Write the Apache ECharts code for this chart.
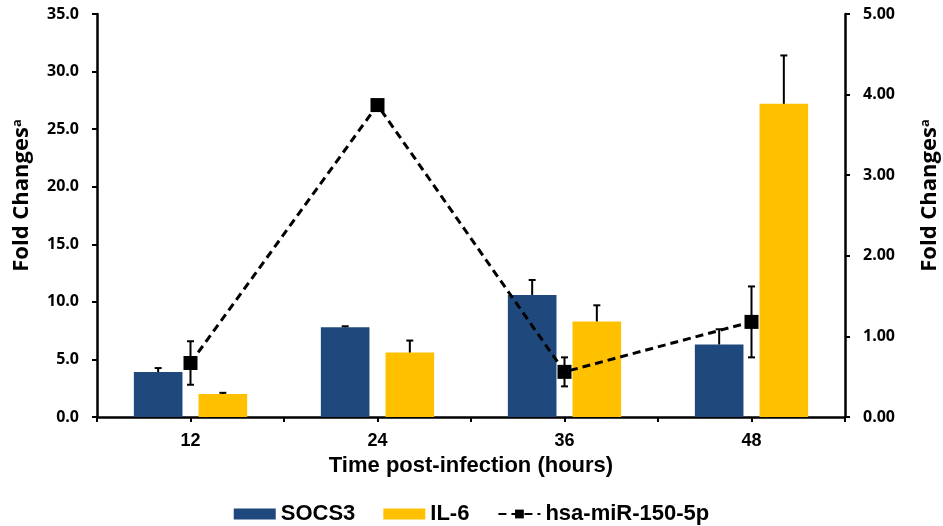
<!DOCTYPE html>
<html>
<head>
<meta charset="utf-8">
<script src="https://cdn.jsdelivr.net/npm/echarts@6/dist/echarts.min.js"></script>
<style>html,body{margin:0;padding:0;background:#fff;}#c{width:943px;height:526px;}</style>
</head>
<body>
<div id="c"></div>
<script>
const categories = ['12', '24', '36', '48'];
const socs3 = [3.9, 7.8, 10.6, 6.3];
const socs3Err = [0.35, 0.08, 1.3, 1.32];
const il6 = [2.0, 5.6, 8.3, 27.2];
const il6Err = [0.1, 1.04, 1.4, 4.2];
const mir = [0.67, 3.87, 0.56, 1.18];
const mirErr = [0.27, 0, 0.18, 0.44];
const leftTicks = [0, 5, 10, 15, 20, 25, 30, 35];
const rightTicks = [0, 1, 2, 3, 4, 5];

const BAR_W = 0.26, BAR_GAP = 0.33;
const tickFont = '"Open Sans"';
const arial = '"Liberation Sans", Arial';

function errRenderer(sign, both) {
  return function (params, api) {
    const i = api.value(0), v = api.value(1), e = api.value(2);
    const p = api.coord([i, v]);
    const t = api.coord([i, v + e]);
    const b = both ? api.coord([i, v - e]) : p;
    const cw = api.size([1, 0])[0];
    const cx = p[0] + sign * cw * BAR_W * (1 + BAR_GAP) / 2;
    const h = 3.5;
    const st = { stroke: '#000', lineWidth: 2 };
    const ch = [
      { type: 'line', shape: { x1: cx, y1: t[1], x2: cx, y2: b[1] }, style: st },
      { type: 'line', shape: { x1: cx - h, y1: t[1], x2: cx + h, y2: t[1] }, style: st }
    ];
    if (both) ch.push({ type: 'line', shape: { x1: cx - h, y1: b[1], x2: cx + h, y2: b[1] }, style: st });
    return { type: 'group', children: ch };
  };
}

const chart = echarts.init(document.getElementById('c'), null, { renderer: 'canvas' });
const axisLine = { show: true, lineStyle: { color: '#000', width: 2.5 } };
const axisTick = { show: true, length: 5, lineStyle: { color: '#000', width: 2 } };
const titleRich = {
  m: { fontFamily: tickFont, fontWeight: 'bold', fontSize: 22, color: '#000' },
  s: { fontFamily: tickFont, fontWeight: 'bold', fontSize: 13, color: '#000', verticalAlign: 'top', padding: [0, 0, 9, 0] }
};
chart.setOption({
  animation: false,
  grid: { left: 97, right: 98, top: 14, bottom: 109, containLabel: false, outerBoundsMode: 'none' },
  legend: {
    left: 'center', top: 498,
    itemWidth: 42, itemHeight: 11, itemGap: 28,
    textStyle: { fontFamily: arial, fontWeight: 'bold', fontSize: 22, color: '#000' },
    data: [{ name: 'SOCS3', icon: 'rect' }, { name: 'IL-6', icon: 'rect' }, { name: 'hsa-miR-150-5p' }]
  },
  xAxis: [{
    type: 'category', data: categories, position: 'bottom',
    axisLine: axisLine, axisTick: { show: false },
    axisLabel: { fontFamily: arial, fontWeight: 'bold', fontSize: 18, color: '#000', margin: 15 },
    name: 'Time post-infection (hours)', nameLocation: 'middle', nameGap: 37,
    nameTextStyle: { fontFamily: arial, fontWeight: 'bold', fontSize: 22, color: '#000' },
    splitLine: { show: false }
  }, {
    type: 'category', data: ['a','b','c','d','e','f','g','h'], position: 'bottom',
    axisLine: { show: false }, axisLabel: { show: false },
    axisTick: axisTick, splitLine: { show: false }
  }],
  yAxis: [{
    type: 'value', min: 0, max: 35, interval: 5, position: 'left',
    axisLine: axisLine, axisTick: axisTick, splitLine: { show: false },
    axisLabel: { fontFamily: tickFont, fontWeight: 'bold', fontSize: 16, color: '#000', margin: 18,
      formatter: v => leftTicks.includes(v) ? v.toFixed(1) : '' },
    name: '{m|Fold Changes}{s|a}', nameLocation: 'middle', nameGap: 64, nameRotate: 90,
    nameTextStyle: { rich: titleRich, padding: [0, 0, 0, 40] }
  }, {
    type: 'value', min: 0, max: 5, interval: 1, position: 'right',
    axisLine: axisLine, axisTick: axisTick, splitLine: { show: false },
    axisLabel: { fontFamily: tickFont, fontWeight: 'bold', fontSize: 16, color: '#000', margin: 18,
      formatter: v => rightTicks.includes(v) ? v.toFixed(2) : '' },
    name: '{m|Fold Changes}{s|a}', nameLocation: 'middle', nameGap: 74, nameRotate: 90,
    nameTextStyle: { rich: titleRich, padding: [0, 0, 0, 40] }
  }],
  series: [
    { name: 'SOCS3', type: 'bar', data: socs3, barWidth: (BAR_W * 100) + '%', barGap: (BAR_GAP * 100) + '%',
      itemStyle: { color: '#1F497D' }, xAxisIndex: 0, yAxisIndex: 0 },
    { name: 'IL-6', type: 'bar', data: il6, barWidth: (BAR_W * 100) + '%', barGap: (BAR_GAP * 100) + '%',
      itemStyle: { color: '#FFC000' }, xAxisIndex: 0, yAxisIndex: 0 },
    { name: 'errSOCS3', type: 'custom', xAxisIndex: 0, yAxisIndex: 0, z: 3,
      data: socs3.map((v, i) => [i, v, socs3Err[i]]), encode: { x: 0, y: 1 }, renderItem: errRenderer(-1, false) },
    { name: 'errIL6', type: 'custom', xAxisIndex: 0, yAxisIndex: 0, z: 3,
      data: il6.map((v, i) => [i, v, il6Err[i]]), encode: { x: 0, y: 1 }, renderItem: errRenderer(1, false) },
    { name: 'errMir', type: 'custom', xAxisIndex: 0, yAxisIndex: 1, z: 4,
      data: mir.map((v, i) => [i, v, mirErr[i]]), encode: { x: 0, y: 1 }, renderItem: errRenderer(0, true) },
    { name: 'hsa-miR-150-5p', type: 'line', data: mir, xAxisIndex: 0, yAxisIndex: 1, z: 5,
      symbol: 'rect', symbolSize: 14, showAllSymbol: true,
      lineStyle: { color: '#000', width: 3, type: [8, 5] },
      itemStyle: { color: '#000' } }
  ]
});
</script>
</body>
</html>
